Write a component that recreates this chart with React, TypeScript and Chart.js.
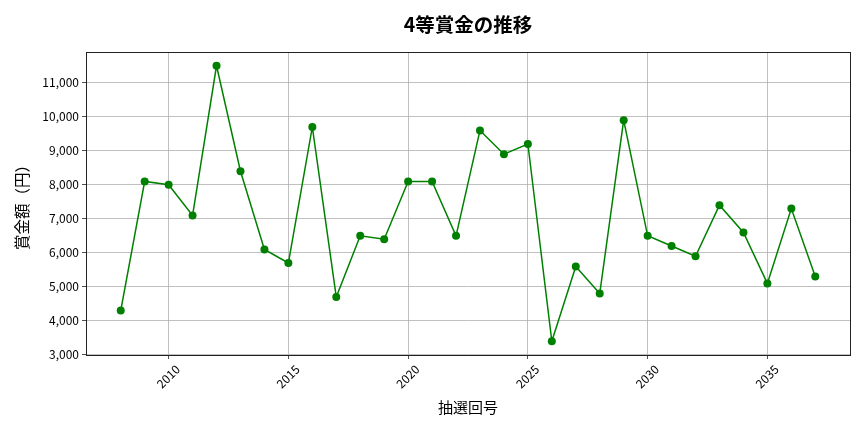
import React, { useEffect, useRef } from "react";
import { Chart, registerables } from "chart.js";

Chart.register(...registerables);

const years: number[] = [
  2008, 2009, 2010, 2011, 2012, 2013, 2014, 2015, 2016, 2017,
  2018, 2019, 2020, 2021, 2022, 2023, 2024, 2025, 2026, 2027,
  2028, 2029, 2030, 2031, 2032, 2033, 2034, 2035, 2036, 2037,
];
const prizes: number[] = [
  4300, 8100, 8000, 7100, 11500, 8400, 6100, 5700, 9700, 4700,
  6500, 6400, 8100, 8100, 6500, 9600, 8900, 9200, 3400, 5600,
  4800, 9900, 6500, 6200, 5900, 7400, 6600, 5100, 7300, 5300,
];
const xTicks: number[] = [2010, 2015, 2020, 2025, 2030, 2035];
const yTicks: number[] = [3000, 4000, 5000, 6000, 7000, 8000, 9000, 10000, 11000];
const titleText = "4等賞金の推移";
const xTitle = "抽選回号";
const yTitle = "賞金額（円）";

const FONT = "'Noto Sans CJK JP', 'Noto Sans', sans-serif";

const framePlugin = {
  id: "frame",
  afterDraw(chart: any) {
    const { ctx, chartArea } = chart;
    ctx.save();
    ctx.strokeStyle = "#222";
    ctx.lineWidth = 1;
    ctx.strokeRect(
      Math.round(chartArea.left) + 0.5,
      Math.round(chartArea.top) + 0.5,
      Math.round(chartArea.right - chartArea.left),
      Math.round(chartArea.bottom - chartArea.top)
    );
    // title centered over the plot area
    ctx.fillStyle = "#000";
    ctx.font = `bold 19.5px ${FONT}`;
    ctx.textAlign = "center";
    ctx.textBaseline = "middle";
    ctx.fillText(titleText, (chartArea.left + chartArea.right) / 2, 25);
    ctx.restore();
  },
};

export default function App() {
  const ref = useRef<HTMLCanvasElement | null>(null);
  useEffect(() => {
    document.body.style.margin = "0";
    const canvas = ref.current;
    if (!canvas) return;
    const chart = new Chart(canvas, {
      type: "line",
      data: {
        datasets: [
          {
            data: years.map((y, i) => ({ x: y, y: prizes[i] })),
            borderColor: "#008000",
            backgroundColor: "#008000",
            borderWidth: 1.5,
            pointRadius: 4,
            pointHoverRadius: 4,
            pointBorderWidth: 0,
            tension: 0,
          },
        ],
      },
      options: {
        animation: false,
        responsive: false,
        devicePixelRatio: 1,
        layout: { padding: { left: 0, right: 14, top: 52, bottom: 0 } },
        plugins: {
          legend: { display: false },
          tooltip: { enabled: false },
          title: { display: false },
        },
        scales: {
          x: {
            type: "linear",
            min: 2006.55,
            max: 2038.45,
            afterFit(scale: any) {
              scale.height = 77;
            },
            afterBuildTicks(scale: any) {
              scale.ticks = xTicks.map((v) => ({ value: v }));
            },
            ticks: {
              minRotation: 45,
              maxRotation: 45,
              labelOffset: 9,
              color: "#000",
              font: { family: FONT, size: 12 },
              callback: (v: any) => String(v),
            },
            grid: {
              color: "#b0b0b0",
              lineWidth: 0.8,
              tickColor: "#222",
              tickLength: 4,
            },
            border: { color: "#222", width: 1 },
            title: {
              display: true,
              text: xTitle,
              color: "#000",
              font: { family: FONT, size: 15, lineHeight: 1.2 },
              padding: { top: 4, bottom: 16 },
            },
          },
          y: {
            type: "linear",
            min: 2995,
            max: 11905,
            afterFit(scale: any) {
              scale.width = 86;
            },
            afterBuildTicks(scale: any) {
              scale.ticks = yTicks.map((v) => ({ value: v }));
            },
            ticks: {
              color: "#000",
              font: { family: FONT, size: 12 },
              callback: (v: any) => Number(v).toLocaleString("en-US"),
            },
            grid: {
              color: "#b0b0b0",
              lineWidth: 0.8,
              tickColor: "#222",
              tickLength: 4,
            },
            border: { color: "#222", width: 1 },
            title: {
              display: true,
              text: yTitle,
              color: "#000",
              font: { family: FONT, size: 15.5, lineHeight: 1.2 },
              padding: { top: 13, bottom: 4 },
            },
          },
        },
      },
      plugins: [framePlugin],
    });
    return () => chart.destroy();
  }, []);
  return (
    <div style={{ position: "absolute", left: 0, top: 0, width: 864, height: 432, background: "#fff" }}>
      <canvas ref={ref} width={864} height={432} style={{ width: 864, height: 432 }} />
    </div>
  );
}
